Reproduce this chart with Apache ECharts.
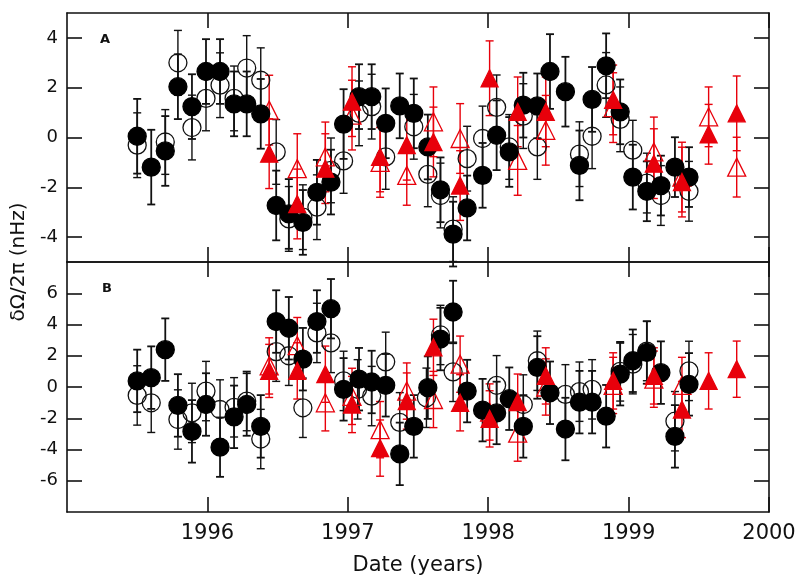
<!DOCTYPE html>
<html>
<head>
<meta charset="utf-8">
<script src="https://cdn.jsdelivr.net/npm/echarts@6/dist/echarts.min.js"></script>
<style>
  html, body { margin: 0; padding: 0; background: #fff; }
  #chart { width: 800px; height: 581px; }
</style>
</head>
<body>
<div id="chart"></div>
<script>
// ---- data ----
// panel A, black filled circles
var tBlack = [1995.50, 1995.60, 1995.70, 1995.79, 1995.89, 1995.99, 1996.09, 1996.19, 1996.28, 1996.38,
  1996.49, 1996.58, 1996.68, 1996.78, 1996.88, 1996.97, 1997.08, 1997.17, 1997.27, 1997.37,
  1997.47, 1997.57, 1997.66, 1997.75, 1997.85, 1997.96, 1998.06, 1998.15, 1998.25, 1998.35,
  1998.44, 1998.55, 1998.65, 1998.74, 1998.84, 1998.94, 1999.03, 1999.13, 1999.23, 1999.33, 1999.43];
var aFilled = [0.05, -1.19, -0.54, 2.04, 1.24, 2.65, 2.65, 1.35, 1.35, 0.95,
  -2.73, -3.07, -3.41, -2.2, -1.79, 0.54, 1.64, 1.64, 0.57, 1.27,
  0.97, -0.38, -2.1, -3.88, -2.83, -1.52, 0.09, -0.58, 1.3, 1.27,
  2.65, 1.84, -1.12, 1.53, 2.88, 1.03, -1.59, -2.16, -1.93, -1.19, -1.59];
var aFilledErr = [1.5, 1.5, 1.4, 1.3, 1.3, 1.3, 1.3, 1.3, 1.3, 1.4,
  1.4, 1.4, 1.3, 1.3, 1.3, 1.4, 1.3, 1.3, 1.4, 1.3,
  1.4, 1.3, 1.3, 1.3, 1.3, 1.3, 1.4, 1.4, 1.3, 1.3,
  1.5, 1.4, 1.4, 1.3, 1.3, 1.3, 1.3, 1.2, 1.2, 1.2, 1.2];

// panel A, black open circles
var tOpenA = [1995.50, 1995.70, 1995.79, 1995.89, 1995.99, 1996.09, 1996.19, 1996.28, 1996.38, 1996.49,
  1996.58, 1996.68, 1996.78, 1996.88, 1996.97, 1997.08, 1997.17, 1997.27, 1997.47, 1997.57,
  1997.66, 1997.75, 1997.85, 1997.96, 1998.06, 1998.15, 1998.25, 1998.35, 1998.65, 1998.74,
  1998.84, 1998.94, 1999.03, 1999.13, 1999.23, 1999.43];
var aOpen = [-0.31, -0.18, 3.0, 0.40, 1.57, 2.1, 1.57, 2.79, 2.3, -0.58,
  -3.27, -3.2, -2.8, -1.32, -0.94, 0.97, 1.24, -0.78, 0.43, -1.48,
  -2.33, -3.68, -0.85, -0.04, 1.21, -0.38, 0.86, -0.38, -0.67, 0.05,
  2.11, 0.73, -0.51, -1.83, -2.33, -2.16];
var aOpenErr = [1.3, 1.3, 1.3, 1.3, 1.3, 1.3, 1.3, 1.3, 1.3, 1.3,
  1.3, 1.3, 1.3, 1.3, 1.3, 1.3, 1.3, 1.3, 1.3, 1.3,
  1.3, 1.3, 1.3, 1.3, 1.3, 1.3, 1.3, 1.3, 1.3, 1.3,
  1.3, 1.3, 1.2, 1.2, 1.2, 1.2];

// panel A, red triangles
var tRed = [1996.44, 1996.64, 1996.84, 1997.03, 1997.23, 1997.42, 1997.61, 1997.80, 1998.01, 1998.21,
  1998.41, 1998.89, 1999.18, 1999.38, 1999.57, 1999.77];
var aRedFilled = [-0.65, -2.67, -1.25, 1.44, -0.78, -0.31, -0.18, -1.93, 2.38, 1.03,
  1.03, 1.51, -1.05, -1.79, 0.13, 0.97];
var aRedFilledErr = [1.4, 1.4, 1.4, 1.4, 1.4, 1.4, 1.4, 1.4, 1.5, 1.4,
  1.4, 1.4, 1.4, 1.4, 1.2, 1.5];
var tRedOpenA = [1996.44, 1996.64, 1996.84, 1997.03, 1997.23, 1997.42, 1997.61, 1997.80, 1998.21, 1998.41,
  1998.89, 1999.18, 1999.38, 1999.57, 1999.77];
var aRedOpen = [1.1, -1.25, -0.78, 0.9, -1.0, -1.52, 0.63, -0.04, -0.92, 0.29,
  1.2, -0.58, -1.59, 0.83, -1.19];
var aRedOpenErr = [1.4, 1.4, 1.4, 1.4, 1.4, 1.2, 1.4, 1.4, 1.4, 1.4,
  1.4, 1.4, 1.4, 1.2, 1.2];

// panel B, black filled circles (same dates as tBlack)
var bFilled = [0.39, 0.6, 2.39, -1.18, -2.84, -1.12, -3.85, -1.91, -1.12, -2.52,
  4.19, 3.76, 1.78, 4.19, 5.01, -0.15, 0.5, 0.32, 0.11, -4.28,
  -2.52, -0.04, 3.07, 4.8, -0.26, -1.48, -1.66, -0.75, -2.52, 1.25,
  -0.37, -2.69, -0.97, -0.97, -1.87, 0.82, 1.68, 2.21, 0.92, -3.16, 0.17];
var bFilledErr = [2.0, 2.0, 2.0, 2.0, 2.0, 2.0, 1.9, 2.0, 2.0, 2.0,
  2.0, 2.0, 2.0, 2.0, 1.9, 2.0, 2.0, 2.0, 2.0, 2.0,
  2.0, 2.0, 2.0, 2.0, 2.0, 2.0, 2.0, 2.0, 2.0, 2.0,
  2.0, 2.0, 2.0, 2.0, 2.0, 2.0, 2.0, 2.0, 2.0, 2.0, 2.0];

// panel B, black open circles
var tOpenB = [1995.50, 1995.60, 1995.79, 1995.89, 1995.99, 1996.09, 1996.19, 1996.28, 1996.38, 1996.49,
  1996.58, 1996.68, 1996.78, 1996.88, 1996.97, 1997.07, 1997.17, 1997.27, 1997.37, 1997.56,
  1997.66, 1997.75, 1998.06, 1998.25, 1998.35, 1998.55, 1998.65, 1998.74, 1998.94, 1999.03,
  1999.13, 1999.33, 1999.43];
var bOpen = [-0.54, -1.01, -2.08, -1.66, -0.26, -1.44, -1.3, -0.9, -3.33, 2.26,
  2.0, -1.33, 3.46, 2.82, 0.39, -0.15, -0.58, 1.61, -2.26, -0.69,
  3.33, 0.97, 0.11, -1.12, 1.68, -0.47, -0.3, -0.15, 1.0, 1.46,
  2.3, -2.19, 1.03];
var bOpenErr = [1.9, 1.9, 1.9, 1.9, 1.9, 1.9, 1.9, 1.9, 1.9, 1.9,
  1.9, 1.9, 1.9, 1.9, 1.9, 1.9, 1.9, 1.9, 1.9, 1.9,
  1.9, 1.9, 1.9, 1.9, 1.9, 1.9, 1.9, 1.9, 1.9, 1.9,
  1.9, 1.9, 1.9];

// panel B, red triangles
var bRedFilled = [1.03, 1.03, 0.82, -1.12, -3.91, -0.9, 2.54, -1.01, -2.04, -0.97,
  0.71, 0.39, 0.71, -1.44, 0.39, 1.14];
var bRedFilledErr = [1.7, 1.8, 1.8, 1.8, 1.8, 1.8, 1.8, 1.8, 1.8, 1.8,
  1.8, 1.8, 1.8, 1.8, 1.8, 1.8];
var tRedOpenB = [1996.44, 1996.64, 1996.84, 1997.03, 1997.23, 1997.42, 1997.61, 1997.80, 1998.01, 1998.21,
  1998.41, 1998.89, 1999.18, 1999.38];
var bRedOpen = [1.35, 2.65, -1.01, -0.6, -2.73, -0.26, -0.8, 1.46, -1.6, -2.95,
  0.0, 0.1, 0.5, 0.1];
var bRedOpenErr = [1.8, 1.8, 1.8, 1.8, 1.8, 1.8, 1.8, 1.8, 1.8, 1.8,
  1.8, 1.8, 1.8, 1.8];

var yearTicks = [1996, 1997, 1998, 1999, 2000];
var ticksA = [-4, -2, 0, 2, 4];
var ticksB = [-6, -4, -2, 0, 2, 4, 6];

var RED = '#e8000b';
var INK = '#111';

function pts(t, v, e) {
  return t.map(function (x, i) { return [x, v[i], e[i]]; });
}

// error bars with caps
function errBars(data, grid, color, lw) {
  return {
    type: 'custom',
    xAxisIndex: grid * 2,
    yAxisIndex: grid * 2,
    data: data,
    encode: { x: 0, y: 1 },
    silent: true,
    z: 2,
    renderItem: function (params, api) {
      var x = api.value(0), y = api.value(1), e = api.value(2);
      var hi = api.coord([x, y + e]);
      var lo = api.coord([x, y - e]);
      var c = 4;
      var st = { stroke: color, lineWidth: lw };
      return {
        type: 'group',
        children: [
          { type: 'line', shape: { x1: hi[0], y1: hi[1], x2: lo[0], y2: lo[1] }, style: st },
          { type: 'line', shape: { x1: hi[0] - c, y1: hi[1], x2: hi[0] + c, y2: hi[1] }, style: st },
          { type: 'line', shape: { x1: lo[0] - c, y1: lo[1], x2: lo[0] + c, y2: lo[1] }, style: st }
        ]
      };
    }
  };
}

function marks(data, grid, symbol, fill, stroke, size, z) {
  return {
    type: 'scatter',
    xAxisIndex: grid * 2,
    yAxisIndex: grid * 2,
    data: data,
    symbol: symbol,
    symbolSize: size,
    z: z,
    itemStyle: { color: fill, borderColor: stroke, borderWidth: 1.3, opacity: 1 }
  };
}

function xAx(grid, pos, labels) {
  return {
    type: 'value', gridIndex: grid, position: pos,
    min: 1995, max: 2000, interval: 1,
    axisLine: { show: true, onZero: false, lineStyle: { color: INK, width: 1.6 } },
    axisTick: { show: true, inside: true, length: 15, customValues: yearTicks, lineStyle: { color: INK, width: 1.6 } },
    axisLabel: {
      show: labels, customValues: yearTicks, margin: 11,
      color: INK, fontSize: 21, fontFamily: 'DejaVu Sans',
      formatter: function (v) { return String(v); }
    },
    splitLine: { show: false }
  };
}

function yAx(grid, pos, lim, ticks, labels) {
  return {
    type: 'value', gridIndex: grid, position: pos,
    min: -lim, max: lim,
    axisLine: { show: true, onZero: false, lineStyle: { color: INK, width: 1.6 } },
    axisTick: { show: true, inside: true, length: 15, customValues: ticks, lineStyle: { color: INK, width: 1.6 } },
    axisLabel: {
      show: labels, customValues: ticks, margin: 9,
      color: INK, fontSize: 18, fontFamily: 'DejaVu Sans'
    },
    splitLine: { show: false }
  };
}

var series = [];
[0, 1].forEach(function (g) {
  var f = g === 0 ? pts(tBlack, aFilled, aFilledErr) : pts(tBlack, bFilled, bFilledErr);
  var o = g === 0 ? pts(tOpenA, aOpen, aOpenErr) : pts(tOpenB, bOpen, bOpenErr);
  var rf = g === 0 ? pts(tRed, aRedFilled, aRedFilledErr) : pts(tRed, bRedFilled, bRedFilledErr);
  var ro = g === 0 ? pts(tRedOpenA, aRedOpen, aRedOpenErr) : pts(tRedOpenB, bRedOpen, bRedOpenErr);
  series.push(errBars(o, g, INK, 1.4));
  series.push(errBars(f, g, INK, 1.8));
  series.push(errBars(ro, g, RED, 1.4));
  series.push(errBars(rf, g, RED, 1.4));
  series.push(marks(o, g, 'circle', 'rgba(0,0,0,0)', INK, 18, 3));
  series.push(marks(ro, g, 'triangle', 'rgba(0,0,0,0)', RED, 18, 4));
  series.push(marks(f, g, 'circle', '#000', '#000', 18, 5));
  series.push(marks(rf, g, 'triangle', RED, RED, 17, 6));
});

var chart = echarts.init(document.getElementById('chart'));
chart.setOption({
  backgroundColor: '#fff',
  animation: false,
  grid: [
    { left: 67, right: 31, top: 13, height: 249 },
    { left: 67, right: 31, top: 262, height: 250 }
  ],
  xAxis: [
    xAx(0, 'bottom', false), xAx(0, 'top', false),
    xAx(1, 'bottom', true), xAx(1, 'top', false)
  ],
  yAxis: [
    yAx(0, 'left', 5, ticksA, true), yAx(0, 'right', 5, ticksA, false),
    yAx(1, 'left', 8, ticksB, true), yAx(1, 'right', 8, ticksB, false)
  ],
  series: series,
  graphic: [
    { type: 'text', left: 100, top: 33, style: { text: 'A', font: 'bold 13px DejaVu Sans', fill: INK } },
    { type: 'text', left: 102, top: 282, style: { text: 'B', font: 'bold 13px DejaVu Sans', fill: INK } },
    {
      type: 'text', x: 19, y: 262, rotation: Math.PI / 2,
      style: { text: 'δΩ/2π (nHz)', font: '20px DejaVu Sans', fill: INK, align: 'center', verticalAlign: 'middle' }
    },
    {
      type: 'text', x: 418, y: 566,
      style: { text: 'Date (years)', font: '21px DejaVu Sans', fill: INK, align: 'center', verticalAlign: 'middle' }
    }
  ]
});
</script>
</body>
</html>
